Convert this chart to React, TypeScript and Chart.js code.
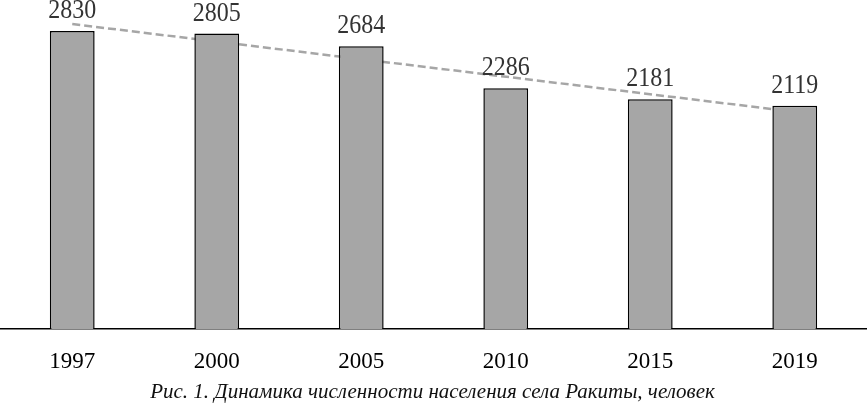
import React, { useEffect, useRef } from "react";
import { Chart, registerables } from "chart.js";

Chart.register(...registerables);

const years = ["1997", "2000", "2005", "2010", "2015", "2019"];
const population = [2830, 2805, 2684, 2286, 2181, 2119];
// Trend line: start and end values only
const trendLine = [2895, null, null, null, null, 2062];
const caption = "Рис. 1. Динамика численности населения села Ракиты, человек";

const SERIF = "'Liberation Serif', 'Times New Roman', serif";

export default function App() {
  const ref = useRef<HTMLCanvasElement | null>(null);

  useEffect(() => {
    if (!ref.current) return;
    const labelsPlugin = {
      id: "valueLabels",
      afterDatasetsDraw(chart: any) {
        const ctx = chart.ctx;
        const meta = chart.getDatasetMeta(1);
        ctx.save();
        ctx.font = `24px ${SERIF}`;
        ctx.fillStyle = "#333333";
        ctx.textAlign = "center";
        ctx.textBaseline = "alphabetic";
        meta.data.forEach((bar: any, i: number) => {
          ctx.save();
          ctx.translate(bar.x, bar.y - 13);
          ctx.scale(1, 1.12);
          ctx.fillText(String(population[i]), 0, 0);
          ctx.restore();
        });
        ctx.restore();
      },
      afterDraw(chart: any) {
        const ctx = chart.ctx;
        const area = chart.chartArea;
        ctx.save();
        ctx.font = `italic 21px ${SERIF}`;
        ctx.fillStyle = "#111111";
        ctx.textAlign = "center";
        ctx.textBaseline = "alphabetic";
        ctx.fillText(caption, (area.left + area.right) / 2 - 1, 398);
        ctx.restore();
      },
    };

    const chart = new Chart(ref.current, {
      type: "bar",
      data: {
        labels: years,
        datasets: [
          {
            type: "line",
            data: trendLine,
            borderColor: "#a6a6a6",
            borderWidth: 2.5,
            borderDash: [8, 4],
            pointRadius: 0,
            spanGaps: true,
            fill: false,
            order: 2,
          } as any,
          {
            type: "bar",
            data: population,
            backgroundColor: "#a6a6a6",
            borderColor: "#000000",
            borderWidth: 1.5,
            barPercentage: 0.62,
            categoryPercentage: 0.5,
            order: 1,
          },
        ],
      },
      options: {
        responsive: false,
        animation: false,
        layout: { padding: { top: 13, left: 0, right: 0, bottom: 0 } },
        plugins: {
          legend: { display: false },
          tooltip: { enabled: false },
          title: { display: false },
        },
        scales: {
          x: {
            grid: { display: false, drawTicks: false },
            border: { display: true, color: "#000000", width: 1.5 },
            ticks: {
              color: "#000000",
              font: { family: SERIF, size: 23 },
              padding: 19,
            },
            afterFit(scale: any) {
              scale.height = 76;
            },
          },
          y: {
            display: false,
            min: 0,
            max: 3000,
          },
        },
      },
      plugins: [labelsPlugin],
    });
    return () => chart.destroy();
  }, []);

  return (
    <div style={{ position: "absolute", left: 0, top: 0, width: 867, height: 405, background: "#fff" }}>
      <canvas ref={ref} width={867} height={405} />
    </div>
  );
}
